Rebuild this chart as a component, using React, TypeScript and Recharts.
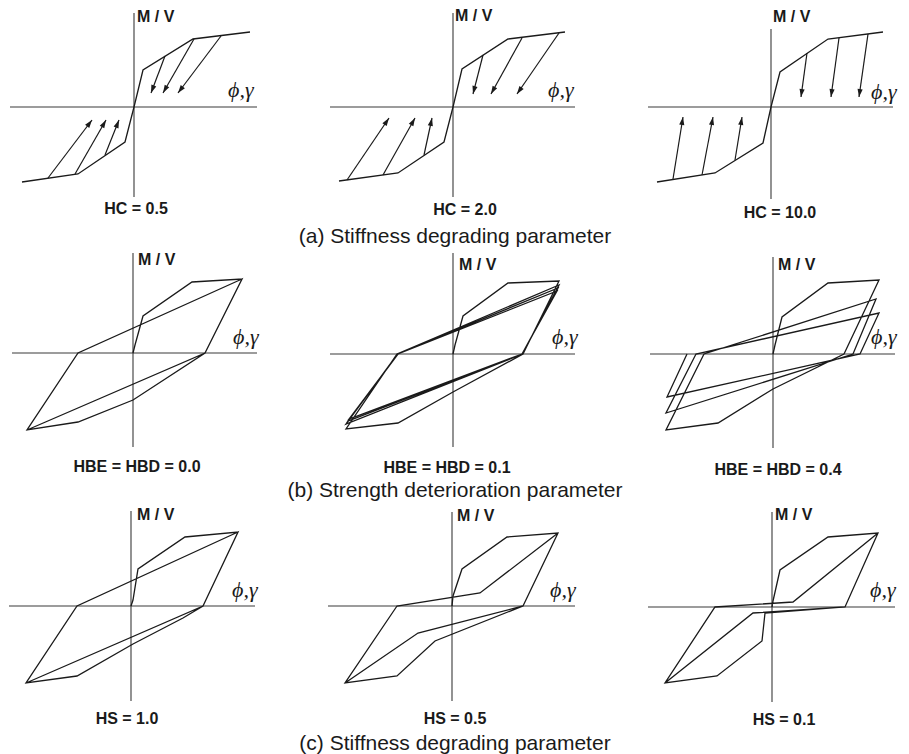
import React from "react";
import { ScatterChart, Scatter, XAxis, YAxis, ReferenceLine } from "recharts";

type Pt = [number, number];
type Arrow = [number, number, number, number]; // x0, y0 -> x1, y1

// (a) stiffness degrading parameter HC
const hc05Backbone: Pt[] = [[-11.2, -7.5], [-5.6, -6.7], [-0.9, -3.5], [0, 0], [0.9, 3.7], [5.9, 6.8], [11.6, 7.5]];
const hc05Arrows: Arrow[] = [
  [3.1, 5.1, 1.7, 1.4], [6.0, 6.8, 2.9, 1.4], [8.7, 7.1, 4.4, 1.4],
  [-2.9, -4.8, -1.5, -1.3], [-5.9, -6.7, -2.8, -1.3], [-8.6, -7.1, -4.2, -1.3],
];
const hc20Backbone: Pt[] = [[-11.4, -7.4], [-5.5, -6.6], [-0.9, -3.5], [0, 0], [0.9, 3.8], [5.5, 6.8], [11.2, 7.5]];
const hc20Arrows: Arrow[] = [
  [3.0, 5.2, 2.0, 1.3], [6.9, 6.9, 3.8, 1.3], [10.6, 7.4, 6.4, 1.3],
  [-2.9, -4.8, -2.1, -1.1], [-7.0, -6.8, -3.8, -1.1], [-10.6, -7.3, -6.4, -1.1],
];
const hc100Backbone: Pt[] = [[-11.4, -7.5], [-5.6, -6.6], [-0.8, -3.6], [0, 0], [0.9, 3.5], [5.7, 6.8], [11.2, 7.5]];
const hc100Arrows: Arrow[] = [
  [3.6, 5.4, 3.0, 1.0], [6.8, 6.9, 6.0, 1.0], [9.7, 7.3, 8.8, 1.0],
  [-3.6, -5.3, -2.9, -1.0], [-6.9, -6.8, -5.8, -1.0], [-9.8, -7.2, -8.8, -1.0],
];

// (b) strength deterioration parameter HBE = HBD
const hbe00Loop: Pt[] = [
  [0, 0], [0.2, 0.8], [1.0, 3.7], [5.9, 7.1], [10.9, 7.4], [7.2, 0], [0, -4.7], [-5.5, -6.9],
  [-10.6, -7.7], [-5.5, 0], [10.9, 7.4], [7.2, 0], [-10.6, -7.7],
];
const hbe01Loop: Pt[] = [
  [0, 0], [0.2, 0.9], [1.0, 3.8], [5.5, 7.1], [10.6, 7.3], [7.0, 0], [0, -3.8], [-5.5, -6.9],
  [-10.7, -7.5], [-5.6, 0], [10.6, 6.9], [6.95, 0], [-10.7, -7.0], [-5.55, 0], [10.5, 6.6],
  [6.9, 0], [-10.5, -6.7], [-5.5, 0], [10.4, 6.3], [6.9, 0], [-10.4, -6.5], [-5.5, 0],
];
const hbe04Loop: Pt[] = [
  [0, 0], [0.2, 0.9], [0.9, 3.7], [5.5, 7.1], [10.6, 7.4], [7.1, 0], [0, -3.5], [-5.5, -6.9],
  [-10.7, -7.6], [-6.9, 0], [10.3, 5.5], [8.0, 0], [-10.7, -5.9], [-7.7, 0], [10.6, 4.1],
  [8.7, 0], [-10.6, -4.3], [-8.6, 0],
];

// (c) stiffness degrading (pinching) parameter HS
const hs10Loop: Pt[] = [
  [0, 0], [0.2, 0.6], [0.7, 3.7], [5.4, 6.9], [10.7, 7.4], [7.2, 0], [5.2, -1.2], [0.2, -3.8],
  [-5.4, -7.0], [-10.5, -7.7], [-5.4, 0], [10.7, 7.4], [7.2, 0], [-10.5, -7.7],
];
const hs05Loop: Pt[] = [
  [0, 0], [0.1, 1.0], [1.0, 3.7], [5.5, 6.9], [10.6, 7.3], [7.1, 0], [-1.7, -3.5], [-5.5, -7.0],
  [-10.7, -7.7], [-5.5, 0], [2.8, 1.3], [10.6, 7.3], [7.1, 0], [-3.4, -2.7], [-10.7, -7.7], [-5.5, 0],
];
const hs01Loop: Pt[] = [
  [0, 0], [0.1, 0.6], [0.8, 3.7], [5.6, 7.0], [10.6, 7.4], [7.3, 0], [-0.7, -0.6], [-1.0, -3.4],
  [-5.5, -6.9], [-10.7, -7.6], [-5.7, 0], [2.1, 0.5], [10.6, 7.4], [7.3, 0], [-1.9, -0.6],
  [-10.7, -7.6], [-5.7, 0],
];

const titles = ["(a) Stiffness degrading parameter", "(b) Strength deterioration parameter", "(c) Stiffness degrading parameter"];

const W = 280;
const H = 240;
const XD: [number, number] = [-14, 14];
const YD: [number, number] = [-12, 12];
const PX = W / (XD[1] - XD[0]);
const PY = H / (YD[1] - YD[0]);
const INK = "#1a1a1a";
const SANS = '"Liberation Sans", Arial, Helvetica, sans-serif';
const SERIF = '"Liberation Serif", "Times New Roman", serif';

const toXY = (pts: Pt[]) => pts.map(([x, y]) => ({ x, y }));

const noDot = () => <g />;

const arrowHead = (props: any) => {
  const { cx, cy, payload } = props;
  if (!payload || !payload.head) return <g />;
  const ang = Math.atan2(-(payload.y - payload.y0) * PY, (payload.x - payload.x0) * PX);
  const L = 8;
  const hw = 2.6;
  const bx = cx - L * Math.cos(ang);
  const by = cy - L * Math.sin(ang);
  const nx = -Math.sin(ang) * hw;
  const ny = Math.cos(ang) * hw;
  return <polygon points={`${cx},${cy} ${bx + nx},${by + ny} ${bx - nx},${by - ny}`} fill={INK} />;
};

type PanelProps = {
  ox: number;
  oy: number;
  hAxis: [number, number];
  vAxis: [number, number];
  paths: Pt[][];
  arrows?: Arrow[];
};

function Panel({ ox, oy, hAxis, vAxis, paths, arrows = [] }: PanelProps) {
  return (
    <div style={{ position: "absolute", left: ox - W / 2, top: oy - H / 2 }}>
      <ScatterChart width={W} height={H} margin={{ top: 0, right: 0, bottom: 0, left: 0 }}>
        <XAxis type="number" dataKey="x" domain={XD} hide />
        <YAxis type="number" dataKey="y" domain={YD} hide />
        <ReferenceLine segment={[{ x: hAxis[0], y: 0 }, { x: hAxis[1], y: 0 }]} stroke="#3a3a3a" strokeWidth={1.1} />
        <ReferenceLine segment={[{ x: 0, y: vAxis[1] }, { x: 0, y: vAxis[0] }]} stroke="#3a3a3a" strokeWidth={1.1} />
        {paths.map((p, i) => (
          <Scatter
            key={"p" + i}
            data={toXY(p)}
            fill={INK}
            line={{ stroke: INK, strokeWidth: 1.3 }}
            shape={noDot}
            isAnimationActive={false}
          />
        ))}
        {arrows.map(([x0, y0, x1, y1], i) => (
          <Scatter
            key={"a" + i}
            data={[{ x: x0, y: y0 }, { x: x1, y: y1, head: true, x0, y0 }]}
            fill={INK}
            line={{ stroke: INK, strokeWidth: 1.2 }}
            shape={arrowHead}
            isAnimationActive={false}
          />
        ))}
      </ScatterChart>
    </div>
  );
}

const panels = [
  { ox: 134, oy: 107, hAxis: [-12.4, 12.3], vAxis: [-9.0, 9.4], paths: [hc05Backbone], arrows: hc05Arrows, caption: "HC = 0.5", cap: [136, 209], mv: [137, 17], phi: [228, 91] },
  { ox: 453, oy: 107, hAxis: [-12.3, 12.2], vAxis: [-9.0, 9.4], paths: [hc20Backbone], arrows: hc20Arrows, caption: "HC = 2.0", cap: [465, 210], mv: [455, 16], phi: [548, 91] },
  { ox: 771, oy: 107, hAxis: [-12.3, 12.2], vAxis: [-9.2, 7.8], paths: [hc100Backbone], arrows: hc100Arrows, caption: "HC = 10.0", cap: [780, 213], mv: [773, 17], phi: [871, 93] },
  { ox: 133, oy: 353, hAxis: [-12.1, 12.4], vAxis: [-9.4, 10.0], paths: [hbe00Loop], arrows: [], caption: "HBE = HBD = 0.0", cap: [137, 467], mv: [138, 260], phi: [233, 338] },
  { ox: 453, oy: 354, hAxis: [-12.3, 12.2], vAxis: [-9.3, 10.1], paths: [hbe01Loop], arrows: [], caption: "HBE = HBD = 0.1", cap: [447, 468], mv: [459, 265], phi: [552, 338] },
  { ox: 773, oy: 354, hAxis: [-12.3, 12.2], vAxis: [-9.4, 9.7], paths: [hbe04Loop], arrows: [], caption: "HBE = HBD = 0.4", cap: [778, 470], mv: [778, 265], phi: [871, 338] },
  { ox: 131, oy: 606, hAxis: [-12.2, 12.4], vAxis: [-9.5, 9.5], paths: [hs10Loop], arrows: [], caption: "HS = 1.0", cap: [127, 719], mv: [137, 515], phi: [232, 591] },
  { ox: 452, oy: 606, hAxis: [-12.4, 12.3], vAxis: [-9.5, 9.4], paths: [hs05Loop], arrows: [], caption: "HS = 0.5", cap: [455, 719], mv: [457, 516], phi: [550, 591] },
  { ox: 772, oy: 607, hAxis: [-12.4, 12.3], vAxis: [-9.5, 9.5], paths: [hs01Loop], arrows: [], caption: "HS = 0.1", cap: [784, 720], mv: [775, 515], phi: [870, 591] },
];

const titleY = [235, 489, 742];

export default function App() {
  return (
    <div style={{ position: "absolute", left: 0, top: 0, width: 909, height: 754, background: "#fff", overflow: "hidden", color: INK }}>
      {panels.map((p, i) => (
        <Panel key={i} ox={p.ox} oy={p.oy} hAxis={p.hAxis as [number, number]} vAxis={p.vAxis as [number, number]} paths={p.paths} arrows={p.arrows as Arrow[]} />
      ))}
      {panels.map((p, i) => (
        <React.Fragment key={"t" + i}>
          <div style={{ position: "absolute", left: p.mv[0], top: p.mv[1] - 8, fontFamily: SANS, fontWeight: 700, fontSize: 16, lineHeight: 1, whiteSpace: "nowrap" }}>
            M / V
          </div>
          <div style={{ position: "absolute", left: p.phi[0], top: p.phi[1] - 12, fontFamily: SERIF, fontStyle: "italic", fontSize: 22, lineHeight: 1, whiteSpace: "nowrap" }}>
            ϕ,γ
          </div>
          <div style={{ position: "absolute", left: p.cap[0] - 150, width: 300, top: p.cap[1] - 8, textAlign: "center", fontFamily: SANS, fontWeight: 700, fontSize: 16, lineHeight: 1, whiteSpace: "nowrap" }}>
            {p.caption}
          </div>
        </React.Fragment>
      ))}
      {titles.map((t, i) => (
        <div key={"h" + i} style={{ position: "absolute", left: 455 - 250, width: 500, top: titleY[i] - 10, textAlign: "center", fontFamily: SANS, fontSize: 21, lineHeight: 1, whiteSpace: "nowrap" }}>
          {t}
        </div>
      ))}
    </div>
  );
}
